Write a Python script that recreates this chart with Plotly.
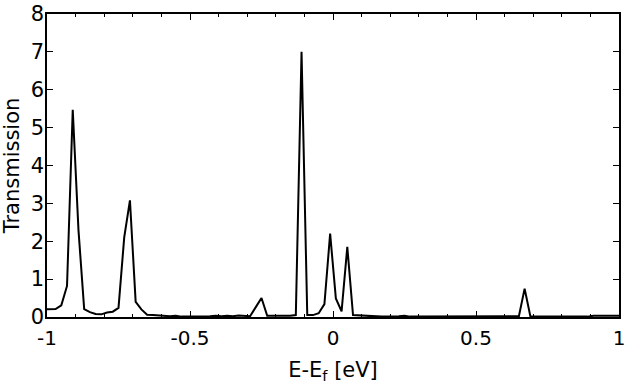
import plotly.graph_objects as go

energy = [round(-1.01 + 0.02 * i, 2) for i in range(102)]
transmission = [
    0.20, 0.20, 0.21, 0.31, 0.82, 5.47, 2.30, 0.21, 0.13, 0.08,   # -1.01 .. -0.83
    0.07, 0.12, 0.14, 0.24, 2.10, 3.08, 0.40, 0.20, 0.06, 0.05,   # -0.81 .. -0.63
    0.04, 0.02, 0.02, 0.03, 0.01, 0.01, 0.01, 0.01, 0.01, 0.02,   # -0.61 .. -0.43
    0.03, 0.02, 0.03, 0.02, 0.04, 0.02, 0.02, 0.26, 0.50, 0.03,   # -0.41 .. -0.23
    0.03, 0.02, 0.02, 0.03, 0.05, 7.00, 0.05, 0.05, 0.10, 0.34,   # -0.21 .. -0.03
    2.20, 0.49, 0.15, 1.85, 0.05, 0.04, 0.03, 0.02, 0.01, 0.01,   # -0.01 .. 0.17
    0.01, 0.01, 0.02, 0.03, 0.01, 0.01, 0.01, 0.01, 0.01, 0.01,   # 0.19 .. 0.37
    0.01, 0.01, 0.01, 0.01, 0.01, 0.01, 0.01, 0.01, 0.01, 0.01,   # 0.39 .. 0.57
    0.01, 0.01, 0.01, 0.02, 0.75, 0.02, 0.01, 0.01, 0.01, 0.01,   # 0.59 .. 0.77
    0.01, 0.01, 0.01, 0.01, 0.01, 0.01, 0.03, 0.03, 0.03, 0.03,   # 0.79 .. 0.97
    0.03, 0.03,                                                   # 0.99 .. 1.01
]

x_ticks = [-1, -0.5, 0, 0.5, 1]
x_tick_labels = ["-1", "-0.5", "0", "0.5", "1"]

fig = go.Figure()
fig.add_trace(go.Scatter(x=energy, y=transmission, mode="lines",
                         line=dict(color="black", width=2), showlegend=False))

font = dict(family="DejaVu Sans", size=21, color="black")
xfont = dict(family="DejaVu Sans", size=20, color="black")
fig.update_layout(
    width=640, height=384,
    margin=dict(l=47, r=21, t=14, b=67),
    paper_bgcolor="white", plot_bgcolor="white",
    font=font,
)
fig.update_xaxes(
    range=[-1, 1], tickvals=x_ticks, ticktext=x_tick_labels,
    ticks="inside", ticklen=6, tickwidth=1.2, tickcolor="black",
    minor=dict(dtick=0.1, tick0=0, ticks="inside", ticklen=3, tickcolor="black", tickwidth=1.2),
    showline=True, linecolor="black", linewidth=1.5, mirror="ticks",
    showgrid=False, zeroline=False, automargin=False,
    ticklabeloverflow="allow", ticklabelstandoff=2,
    title=dict(text="E-E<sub>f</sub> [eV]", font=font),
    tickfont=xfont,
)
fig.update_yaxes(
    range=[0, 8], dtick=1, tick0=0,
    ticks="inside", ticklen=6, tickwidth=1.2, tickcolor="black",
    showline=True, linecolor="black", linewidth=1.5, mirror="ticks",
    showgrid=False, zeroline=False, automargin=False,
    ticklabeloverflow="allow", ticklabelstandoff=-3,
    title=dict(text="Transmission", font=font),
    tickfont=font,
)

fig.write_html("out.html", config={"displayModeBar": False},
               post_script="document.body.style.margin='0';")
